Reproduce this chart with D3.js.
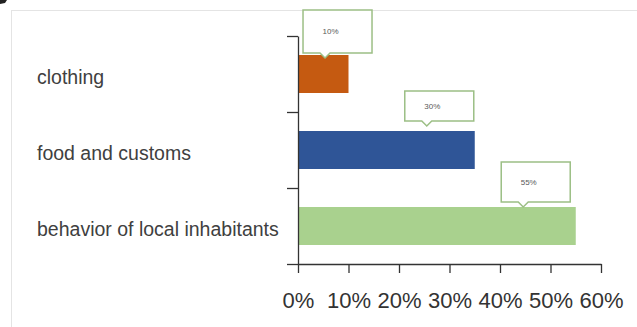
<!DOCTYPE html>
<html>
<head>
<meta charset="utf-8">
<script src="https://cdn.jsdelivr.net/npm/d3@7"></script>
<style>
  html, body { margin: 0; padding: 0; background: #fff; }
  svg { display: block; }
</style>
</head>
<body>
<svg id="chart" width="637" height="327"></svg>
<script>
// ---- data ----
const categories = ["clothing", "food and customs", "behavior of local inhabitants"];
const values = [10, 35, 55];
const dataLabels = ["10%", "30%", "55%"];
const labelAnchors = [5.35, 25.5, 44.6];   // where each callout points, in axis units (%)
const xTicks = [0, 10, 20, 30, 40, 50, 60];

// ---- styles / layout ----
const colors = ["#C55A11", "#2F5597", "#A9D18E"];
const calloutHeights = [43, 30, 40];
const calloutGaps = [-3, 5, 0];   // space between pointer tip and bar top
const W = 637, H = 327;
const plot = { left: 298, right: 601, top: 36, bottom: 264 };
const FONT = "'Liberation Sans', Arial, sans-serif";

const svg = d3.select("#chart");

// chart area border
svg.append("rect")
  .attr("x", 11.5).attr("y", 10.5)
  .attr("width", W).attr("height", H)
  .attr("fill", "#fff")
  .attr("stroke", "#e4e4e4").attr("stroke-width", 1);

// small dark mark in the top-left corner
svg.append("path").attr("d", "M0,0 L7,0 L5,3 L0,4 Z").attr("fill", "#222");

const x = d3.scaleLinear().domain([0, 60]).range([plot.left, plot.right]);
const y = d3.scaleBand().domain(categories).range([plot.top, plot.bottom])
  .paddingInner(0.5).paddingOuter(0.25);
const yEdges = d3.scaleLinear().domain([0, categories.length]).range([plot.bottom, plot.top]);

// bars
svg.append("g").selectAll("rect").data(categories).join("rect")
  .attr("x", x(0))
  .attr("y", d => y(d))
  .attr("width", (d, i) => x(values[i]) - x(0))
  .attr("height", y.bandwidth())
  .attr("fill", (d, i) => colors[i]);

// y axis (line with ticks at band edges)
const yAxis = svg.append("g")
  .attr("transform", `translate(${plot.left},0)`)
  .call(d3.axisLeft(yEdges).tickValues(d3.range(categories.length + 1)).tickSize(11).tickSizeOuter(0).tickFormat(""));
yAxis.selectAll("path, line").attr("stroke", "#333").attr("stroke-width", 1.3);

// category labels
svg.append("g").selectAll("text").data(categories).join("text")
  .attr("x", 37)
  .attr("y", d => y(d) + y.bandwidth() / 2 + 3)
  .attr("dy", "0.35em")
  .attr("font-family", FONT)
  .attr("font-size", 19.5)
  .attr("fill", "#404040")
  .text(d => d);

// x axis
const xAxis = svg.append("g")
  .attr("transform", `translate(0,${plot.bottom})`)
  .call(d3.axisBottom(x).tickValues(xTicks).tickFormat(d => d + "%").tickSize(9).tickSizeOuter(0).tickPadding(19));
xAxis.selectAll("path, line").attr("stroke", "#333").attr("stroke-width", 1.3);
xAxis.selectAll("text")
  .attr("font-family", FONT)
  .attr("font-size", 22)
  .attr("fill", "#333");

// callouts
const cw = 69, tipW = 10, tipH = 5;
const callouts = svg.append("g").selectAll("g").data(categories).join("g");
callouts.each(function (d, i) {
  const g = d3.select(this);
  const px = x(labelAnchors[i]);
  const tipY = y(d) - calloutGaps[i];
  const bottom = tipY - tipH;
  const top = bottom - calloutHeights[i];
  const left = px - 22, right = left + cw;
  const p = d3.path();
  p.moveTo(left, top);
  p.lineTo(right, top);
  p.lineTo(right, bottom);
  p.lineTo(px + tipW / 2, bottom);
  p.lineTo(px, tipY);
  p.lineTo(px - tipW / 2, bottom);
  p.lineTo(left, bottom);
  p.closePath();
  g.append("path").attr("d", p.toString())
    .attr("fill", "#fff").attr("stroke", "#9cbf85").attr("stroke-width", 1.5);
  g.append("text")
    .attr("x", (left + right) / 2 - 7)
    .attr("y", (top + bottom) / 2)
    .attr("dy", "0.35em")
    .attr("text-anchor", "middle")
    .attr("font-family", FONT)
    .attr("font-size", 8)
    .attr("fill", "#595959")
    .text(dataLabels[i]);
});
</script>
</body>
</html>
